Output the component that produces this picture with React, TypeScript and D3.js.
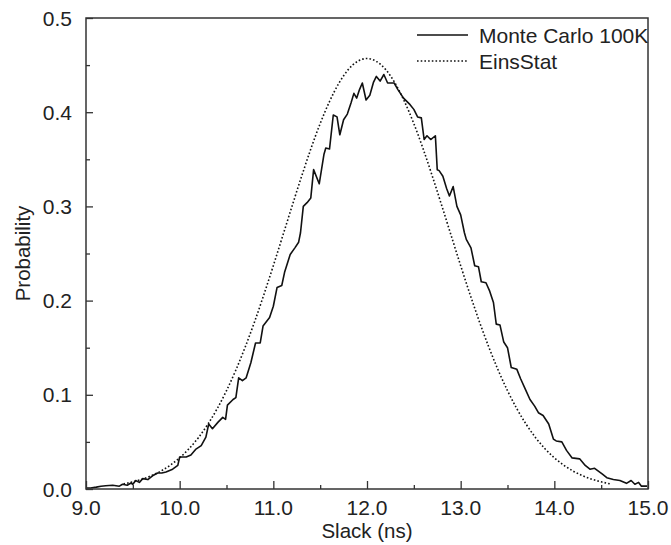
import React, { useEffect, useRef } from 'react';
import * as d3 from 'd3';

// Monte Carlo 100K histogram as [slack, probability]
const monteCarlo: [number, number][] = [
  [9.0, 0.001], [9.05, 0.001], [9.11, 0.002], [9.16, 0.003], [9.21, 0.0035], [9.285, 0.004],
  [9.356, 0.003], [9.39, 0.005], [9.44, 0.004], [9.48, 0.0064], [9.5, 0.005], [9.53, 0.009],
  [9.57, 0.007], [9.605, 0.011], [9.66, 0.01], [9.71, 0.014], [9.765, 0.017], [9.81, 0.017],
  [9.854, 0.018], [9.925, 0.021], [9.98, 0.025], [10.0, 0.034], [10.07, 0.034], [10.12, 0.036],
  [10.17, 0.042], [10.23, 0.046], [10.28, 0.055], [10.31, 0.069], [10.35, 0.064], [10.41, 0.071],
  [10.46, 0.076], [10.49, 0.074], [10.51, 0.089], [10.57, 0.095], [10.6, 0.097], [10.63, 0.118],
  [10.67, 0.115], [10.71, 0.118], [10.76, 0.134], [10.81, 0.155], [10.86, 0.155], [10.89, 0.173],
  [10.96, 0.182], [11.0, 0.194], [11.04, 0.214], [11.09, 0.216], [11.12, 0.23], [11.18, 0.249],
  [11.23, 0.256], [11.27, 0.262], [11.29, 0.272], [11.32, 0.3], [11.36, 0.304], [11.4, 0.309],
  [11.43, 0.339], [11.49, 0.324], [11.54, 0.355], [11.56, 0.362], [11.6, 0.361], [11.64, 0.397],
  [11.68, 0.395], [11.71, 0.376], [11.75, 0.392], [11.79, 0.398], [11.83, 0.41], [11.86, 0.42],
  [11.89, 0.415], [11.92, 0.424], [11.95, 0.431], [11.99, 0.413], [12.03, 0.418], [12.07, 0.432],
  [12.1, 0.438], [12.14, 0.433], [12.18, 0.44], [12.22, 0.431], [12.29, 0.431], [12.33, 0.424],
  [12.39, 0.415], [12.46, 0.408], [12.5, 0.403], [12.54, 0.395], [12.58, 0.394], [12.61, 0.371],
  [12.64, 0.375], [12.68, 0.371], [12.73, 0.375], [12.75, 0.339], [12.77, 0.338], [12.81, 0.332],
  [12.85, 0.319], [12.88, 0.311], [12.92, 0.321], [12.96, 0.3], [13.0, 0.291], [13.04, 0.272],
  [13.06, 0.265], [13.11, 0.256], [13.15, 0.237], [13.19, 0.236], [13.22, 0.22], [13.27, 0.219],
  [13.31, 0.21], [13.35, 0.198], [13.38, 0.175], [13.42, 0.174], [13.46, 0.156], [13.5, 0.15],
  [13.54, 0.129], [13.6, 0.127], [13.64, 0.117], [13.69, 0.106], [13.74, 0.095], [13.79, 0.088],
  [13.83, 0.081], [13.88, 0.078], [13.94, 0.069], [13.99, 0.053], [14.02, 0.051], [14.08, 0.05],
  [14.13, 0.041], [14.19, 0.033], [14.27, 0.032], [14.33, 0.025], [14.38, 0.021], [14.43, 0.022],
  [14.51, 0.016], [14.56, 0.012], [14.63, 0.01], [14.7, 0.009], [14.77, 0.006], [14.82, 0.009],
  [14.86, 0.005], [14.9, 0.007], [14.93, 0.003], [14.99, 0.003],
];

// EinsStat curve, sampled every 0.1 ns
const einsX = d3.range(94, 147).map(i => i / 10);
const einsP = [
  0.0054, 0.0076, 0.0104, 0.0142, 0.0191, 0.0253, 0.0331, 0.0428, 0.0545, 0.0686,
  0.0852, 0.1044, 0.1263, 0.1508, 0.1776, 0.2066, 0.2371, 0.2686, 0.3003, 0.3313,
  0.3609, 0.3879, 0.4114, 0.4308, 0.4452, 0.454, 0.457, 0.454, 0.4452, 0.4308,
  0.4114, 0.3879, 0.3609, 0.3313, 0.3003, 0.2686, 0.2371, 0.2066, 0.1776, 0.1508,
  0.1263, 0.1044, 0.0852, 0.0686, 0.0545, 0.0428, 0.0331, 0.0253, 0.0191, 0.0142,
  0.0104, 0.0076, 0.0054,
];

const xTicks = [9, 10, 11, 12, 13, 14, 15];
const yTicks = [0, 0.1, 0.2, 0.3, 0.4, 0.5];
const seriesNames = ['Monte Carlo 100K', 'EinsStat'];

const W = 671, H = 545;
const margin = { top: 18, right: 23, bottom: 56, left: 86 };
const font = '"Liberation Sans", Arial, Helvetica, sans-serif';

function SlackChart() {
  const svgRef = useRef<SVGSVGElement>(null);

  useEffect(() => {
    if (!svgRef.current) return;
    const svg = d3.select(svgRef.current);
    svg.selectAll('*').remove();

    const iw = W - margin.left - margin.right;
    const ih = H - margin.top - margin.bottom;

    const x = d3.scaleLinear().domain([9, 15]).range([0, iw]);
    const y = d3.scaleLinear().domain([0, 0.5]).range([ih, 0]);

    const g = svg.append('g').attr('transform', `translate(${margin.left},${margin.top})`);

    // curves
    const line = d3.line<[number, number]>().x(d => x(d[0])).y(d => y(d[1]));
    g.append('path')
      .datum(monteCarlo)
      .attr('d', line)
      .attr('fill', 'none')
      .attr('stroke', '#111')
      .attr('stroke-width', 1.6)
      .attr('stroke-linejoin', 'round');

    const eins = einsX.map((v, i) => [v, einsP[i]] as [number, number]);
    g.append('path')
      .datum(eins)
      .attr('d', line.curve(d3.curveMonotoneX))
      .attr('fill', 'none')
      .attr('stroke', '#111')
      .attr('stroke-width', 1.6)
      .attr('stroke-dasharray', '1.6,2.1');

    // inward ticks, major + minor
    const xAxis = g.append('g').attr('transform', `translate(0,${ih})`);
    xAxis.call(d3.axisTop(x).tickValues(d3.range(9.5, 15, 1)).tickSize(4).tickFormat(() => ''));
    xAxis.call(g2 => g2.append('g').call(d3.axisTop(x).tickValues(xTicks).tickSize(8).tickFormat(() => '')));
    xAxis.selectAll('.domain').remove();

    const yAxis = g.append('g');
    yAxis.call(d3.axisRight(y).tickValues(d3.range(0.05, 0.5, 0.1)).tickSize(4).tickFormat(() => ''));
    yAxis.call(g2 => g2.append('g').call(d3.axisRight(y).tickValues(yTicks).tickSize(7).tickFormat(() => '')));
    yAxis.selectAll('.domain').remove();
    svg.selectAll('.tick line').attr('stroke', '#333').attr('stroke-width', 1.3);

    // frame
    g.append('rect')
      .attr('width', iw)
      .attr('height', ih)
      .attr('fill', 'none')
      .attr('stroke', '#333')
      .attr('stroke-width', 1.5);

    // tick labels
    g.selectAll('.xl')
      .data(xTicks)
      .enter()
      .append('text')
      .attr('x', d => x(d))
      .attr('y', ih + 26)
      .attr('text-anchor', 'middle')
      .style('font-family', font)
      .style('font-size', '21px')
      .attr('fill', '#222')
      .text(d => d.toFixed(1));

    g.selectAll('.yl')
      .data(yTicks)
      .enter()
      .append('text')
      .attr('x', -14)
      .attr('y', d => y(d))
      .attr('dy', '0.36em')
      .attr('text-anchor', 'end')
      .style('font-family', font)
      .style('font-size', '21px')
      .attr('fill', '#222')
      .text(d => d.toFixed(1));

    // axis titles
    svg.append('text')
      .attr('x', margin.left + iw / 2)
      .attr('y', 538)
      .attr('text-anchor', 'middle')
      .style('font-family', font)
      .style('font-size', '20.5px')
      .attr('fill', '#222')
      .text('Slack (ns)');

    svg.append('text')
      .attr('transform', `translate(30,${margin.top + ih / 2}) rotate(-90)`)
      .attr('text-anchor', 'middle')
      .style('font-family', font)
      .style('font-size', '20.5px')
      .attr('fill', '#222')
      .text('Probability');

    // legend
    const legend = svg.append('g');
    seriesNames.forEach((name, i) => {
      const ly = 35 + i * 26;
      legend.append('line')
        .attr('x1', 417).attr('x2', 468)
        .attr('y1', ly).attr('y2', ly)
        .attr('stroke', '#111')
        .attr('stroke-width', 1.5)
        .attr('stroke-dasharray', i === 1 ? '1.6,2.1' : null);
      legend.append('text')
        .attr('x', 479)
        .attr('y', ly)
        .attr('dy', '0.36em')
        .style('font-family', font)
        .style('font-size', '21px')
        .attr('fill', '#222')
        .text(name);
    });
  }, []);

  return <svg ref={svgRef} width={W} height={H} style={{ position: 'absolute', left: 0, top: 0, background: '#fff' }} />;
}

export default function App() {
  return <SlackChart />;
}
